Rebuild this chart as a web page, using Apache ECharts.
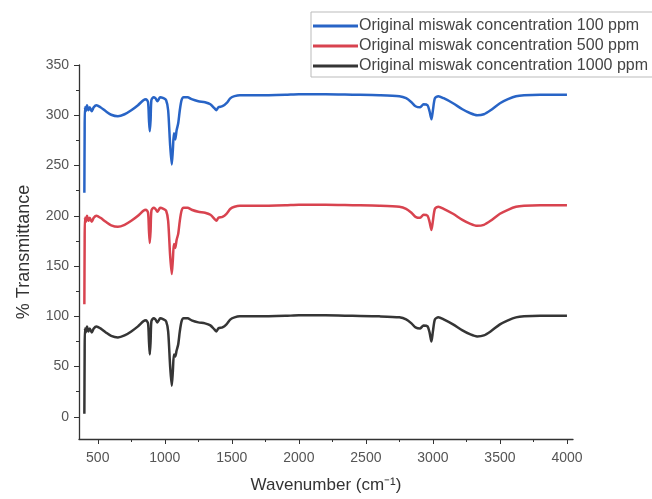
<!DOCTYPE html>
<html><head><meta charset="utf-8">
<script src="https://cdn.jsdelivr.net/npm/echarts@6/dist/echarts.min.js"></script>
<style>html,body{margin:0;padding:0;background:#fff}#c{width:652px;height:499px}</style>
</head><body><div id="c"></div>
<script>
const seriesNames = ['Original miswak concentration 100 ppm','Original miswak concentration 500 ppm','Original miswak concentration 1000 ppm'];
const wavenumbers = [400,402,404,410,420,430,440,455,470,490,520,560,600,650,700,750,800,840,860,875,882,888,894,900,915,930,945,955,965,990,1010,1025,1040,1052,1060,1068,1078,1088,1100,1112,1125,1140,1170,1200,1250,1300,1340,1370,1385,1400,1430,1460,1490,1520,1560,1700,1900,2000,2100,2200,2400,2600,2750,2800,2840,2870,2905,2930,2960,2975,2989,3000,3015,3040,3080,3150,3220,3280,3330,3380,3430,3500,3560,3620,3680,3800,4000];
const t100 = [223,280,308,304,310,305,308,304,308,310,308,304,300.5,299,301,305,310,315,316,313,295,284,295,315,318,317,314,316,318,317,315,305,270,251,265,282,276,285,292,305,315,318,318,316,314,313,311,307,305,308,309,312,317,319,320,320,320.5,321,321,321,320.5,320,319,317,313,309,308,311,310,304,296,305,317,319,317,312,306,302,300,301,305,312,316,319,320,320.5,320.5];
const t500 = [112,170,198,194,200,195,198,194,198,200,198,194,190.5,189,191,195,200,205,206,203,185,173,185,205,208,207,204,206,208,207,205,195,160,142,156,172,168,176,182,195,205,208,208,206,204,203,201,197,195,198,199,202,207,209,210,210,210.5,211,211,211,210.5,210,209,207,203,199,198,201,200,194,186,195,207,209,207,202,196,192,190,191,195,202,206,209,210,210.5,210.5];
const t1000 = [3,60,88,84,90,85,88,84,88,90,88,84,80.5,79,81,85,90,95,96,93,75,62,75,95,98,97,94,96,98,97,95,85,50,31,45,62,60,66,72,85,95,98,98,96,94,93,91,87,85,88,89,92,97,99,100,100,100.5,101,101,101,100.5,100,99,97,93,89,88,91,90,84,75,85,97,99,97,92,86,82,80,81,85,92,96,99,100,100.5,100.5];
const xMajor = [500,1000,1500,2000,2500,3000,3500,4000];
const xMinor = [750,1250,1750,2250,2750,3250,3750];
const yMajor = [0,50,100,150,200,250,300,350];
const yMinor = [25,75,125,175,225,275,325];

const colors = ['#2864c6','#d8434f','#353535'];
const XMIN = 360, XMAX = 4045, YMIN = -22, YMAX = 350;
const axisColor = '#333';
const font = 'Liberation Sans, Arial, sans-serif';

function pairs(vals){ return wavenumbers.map((w,i)=>[w, vals[i]]); }
const allVals = [t100, t500, t1000];
const fmt = v => String(v);

const chart = echarts.init(document.getElementById('c'), null, {renderer:'canvas'});
chart.setOption({
  animation:false,
  backgroundColor:'#fff',
  grid:{left:79, right:79, top:65, bottom:59, containLabel:false},
  legend:{
    orient:'vertical', left:311, top:12,
    icon:'rect', itemWidth:45, itemHeight:3, itemGap:4,
    padding:[6,10,3,2],
    borderColor:'#bbb', borderWidth:1,
    textStyle:{fontFamily:font, fontSize:16, lineHeight:16, color:'#444', padding:[0,0,0,-4]},
    data:seriesNames
  },
  xAxis:[{
    type:'value', min:XMIN, max:XMAX, position:'bottom',
    name:'Wavenumber (cm⁻¹)', nameLocation:'middle', nameGap:38,
    nameTextStyle:{fontFamily:font, fontSize:17, color:'#333'},
    axisLine:{show:true, onZero:false, lineStyle:{color:axisColor, width:1.3}},
    axisTick:{show:true, length:5, customValues:xMajor, lineStyle:{color:axisColor}},
    axisLabel:{customValues:xMajor, formatter:fmt, fontFamily:font, fontSize:14, color:'#555', margin:12},
    splitLine:{show:false}
  },{
    type:'value', min:XMIN, max:XMAX, position:'bottom',
    axisLine:{show:false, onZero:false},
    axisTick:{show:true, length:3, customValues:xMinor, lineStyle:{color:axisColor}},
    axisLabel:{show:false},
    splitLine:{show:false}
  }],
  yAxis:[{
    type:'value', min:YMIN, max:YMAX, position:'left',
    name:'% Transmittance', nameLocation:'middle', nameGap:46, nameRotate:90,
    nameTextStyle:{fontFamily:font, fontSize:18, color:'#333'},
    axisLine:{show:true, onZero:false, lineStyle:{color:axisColor, width:1.3}},
    axisTick:{show:true, length:5, customValues:yMajor, lineStyle:{color:axisColor}},
    axisLabel:{customValues:yMajor, formatter:fmt, fontFamily:font, fontSize:14, color:'#555', margin:10},
    splitLine:{show:false}
  },{
    type:'value', min:YMIN, max:YMAX, position:'left',
    axisLine:{show:false, onZero:false},
    axisTick:{show:true, length:3, customValues:yMinor, lineStyle:{color:axisColor}},
    axisLabel:{show:false},
    splitLine:{show:false}
  }],
  series: seriesNames.map((n,i)=>({
    name:n, type:'line', xAxisIndex:0, yAxisIndex:0,
    data:pairs(allVals[i]), showSymbol:false, symbol:'none', smooth:0.25,
    lineStyle:{color:colors[i], width:2.5}, itemStyle:{color:colors[i]}
  }))
});
</script></body></html>
